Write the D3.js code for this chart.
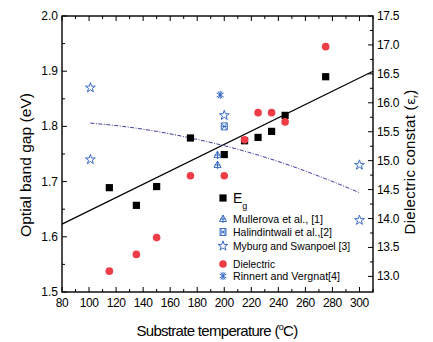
<!DOCTYPE html>
<meta charset="utf-8">
<script src="https://d3js.org/d3.v7.min.js"></script>
<style>
body { margin: 0; background: #fff; }
text { font-family: "Liberation Sans", Arial, sans-serif; }
</style>
<div id="chart"></div>
<script>

// measured values
var temps = [115, 135, 150, 175, 200, 215, 225, 235, 245, 275];
var egValues = [1.689, 1.657, 1.691, 1.779, 1.749, 1.774, 1.780, 1.791, 1.820, 1.890];
var dielectricValues = [13.09, 13.38, 13.67, 14.74, 14.74, 15.36, 15.83, 15.83, 15.67, 16.97];

// linear fit of Eg
var fitTemps = [80, 310];
var fitValues = [1.623, 1.900];

// dash-dot curve
var curveTemps = [101, 125, 150, 175, 200, 225, 250, 275, 300];
var curveValues = [1.806, 1.800, 1.791, 1.779, 1.765, 1.748, 1.728, 1.705, 1.680];

// literature
var mullerovaTemps = [195, 195];
var mullerovaValues = [1.748, 1.730];
var halindTemps = [200];
var halindValues = [1.800];
var myburgTemps = [101, 101, 200, 300, 300];
var myburgValues = [1.870, 1.740, 1.820, 1.730, 1.630];
var rinnertTemps = [197];
var rinnertValues = [1.857];

var xTicks = [80, 100, 120, 140, 160, 180, 200, 220, 240, 260, 280, 300];
var yTicks = [1.5, 1.6, 1.7, 1.8, 1.9, 2.0];
var y2Ticks = [13.0, 13.5, 14.0, 14.5, 15.0, 15.5, 16.0, 16.5, 17.0, 17.5];

var legendLabels = ["Mullerova et al., [1]", "Halindintwali et al.,[2]", "Myburg and Swanpoel [3]", "Dielectric", "Rinnert and Vergnat[4]"];
var legendWidths = [90, 99, 117, 42, 107];

var blue = "#3b6cc6", red = "#ee3d47";

var margin = {top: 16, right: 60, bottom: 50, left: 62},
    width = 373 - margin.left,
    height = 292 - margin.top;

var svg = d3.select("#chart")
  .append("svg")
    .attr("width", 433)
    .attr("height", 342)
  .append("g")
    .attr("transform", "translate(" + margin.left + "," + margin.top + ")");

var x = d3.scaleLinear().domain([80, 310]).range([0, width]);
var y = d3.scaleLinear().domain([1.5, 2.0]).range([height, 0]);
var y2 = d3.scaleLinear().domain([12.73, 17.5]).range([height, 0]);

// ticks (inward), minor + major
var g = svg.append("g").attr("stroke", "#000").attr("stroke-width", 1);
d3.range(80, 311, 10).forEach(function(v) {
  var len = (v % 20 === 0) ? 5 : 3;
  g.append("line").attr("x1", x(v)).attr("x2", x(v)).attr("y1", height).attr("y2", height - len);
  g.append("line").attr("x1", x(v)).attr("x2", x(v)).attr("y1", 0).attr("y2", len);
});
d3.range(0, 11).forEach(function(i) {
  var v = 1.5 + i * 0.05;
  var len = (i % 2 === 0) ? 5 : 3;
  g.append("line").attr("x1", 0).attr("x2", len).attr("y1", y(v)).attr("y2", y(v));
});
d3.range(0, 19).forEach(function(i) {
  var v = 13.0 + i * 0.25;
  var len = (i % 2 === 0) ? 5 : 3;
  g.append("line").attr("x1", width).attr("x2", width - len).attr("y1", y2(v)).attr("y2", y2(v));
});

// frame
svg.append("rect")
  .attr("width", width).attr("height", height)
  .attr("fill", "none").attr("stroke", "#000").attr("stroke-width", 1.4);

// tick labels
svg.selectAll(".xl").data(xTicks).enter().append("text")
  .attr("x", function(d) { return x(d); })
  .attr("y", height + 15)
  .attr("text-anchor", "middle")
  .attr("font-size", 12)
  .attr("letter-spacing", -0.4)
  .text(function(d) { return d; });
svg.selectAll(".yl").data(yTicks).enter().append("text")
  .attr("x", -4)
  .attr("y", function(d) { return y(d) + 4; })
  .attr("text-anchor", "end")
  .attr("font-size", 12)
  .text(function(d) { return d.toFixed(1); });
svg.selectAll(".y2l").data(y2Ticks).enter().append("text")
  .attr("x", width + 4)
  .attr("y", function(d) { return y2(d) + 4; })
  .attr("font-size", 12)
  .attr("letter-spacing", -0.3)
  .text(function(d) { return d.toFixed(1); });

// axis titles
svg.append("text")
  .attr("transform", "translate(" + (31 - margin.left) + "," + (165 - margin.top) + ") rotate(-90)")
  .attr("text-anchor", "middle").attr("font-size", 15)
  .attr("textLength", 144).attr("lengthAdjust", "spacingAndGlyphs")
  .text("Optial band gap (eV)");
var rt = svg.append("text")
  .attr("transform", "translate(" + (415 - margin.left) + "," + (162 - margin.top) + ") rotate(-90)")
  .attr("text-anchor", "middle").attr("font-size", 15).attr("letter-spacing", 0.3);
rt.append("tspan").text("Dielectric constat (");
rt.append("tspan").attr("font-family", "DejaVu Sans").attr("font-size", 13).text("ε");
rt.append("tspan").attr("font-size", 8).attr("dy", 3).text("r");
rt.append("tspan").attr("dy", -3).text(")");
var bt = svg.append("text")
  .attr("x", 217 - margin.left).attr("y", 336 - margin.top)
  .attr("text-anchor", "middle").attr("font-size", 15).attr("letter-spacing", -0.7);
bt.append("tspan").text("Substrate temperature (");
bt.append("tspan").attr("font-size", 9).attr("dy", -6).text("o");
bt.append("tspan").attr("dy", 6).text("C)");

// lines
svg.append("path")
  .datum(d3.zip(fitTemps, fitValues))
  .attr("fill", "none").attr("stroke", "#000").attr("stroke-width", 1.2)
  .attr("d", d3.line().x(function(d) { return x(d[0]); }).y(function(d) { return y(d[1]); }));
svg.append("path")
  .datum(d3.zip(curveTemps, curveValues))
  .attr("fill", "none").attr("stroke", "#3a3d9c").attr("stroke-width", 1)
  .attr("stroke-dasharray", "4,1.5,1,1.5")
  .attr("d", d3.line().curve(d3.curveMonotoneX).x(function(d) { return x(d[0]); }).y(function(d) { return y(d[1]); }));

// symbol drawers
function square(sel, cx, cy) {
  sel.append("rect").attr("x", cx - 3.6).attr("y", cy - 3.6).attr("width", 7.2).attr("height", 7.2).attr("fill", "#000");
}
function circle(sel, cx, cy) {
  sel.append("circle").attr("cx", cx).attr("cy", cy).attr("r", 3.8).attr("fill", red);
}
function star(sel, cx, cy) {
  sel.append("path").attr("d", d3.symbol().type(d3.symbolStar).size(30)())
    .attr("transform", "translate(" + cx + "," + cy + ")")
    .attr("fill", "none").attr("stroke", blue).attr("stroke-width", 1);
}
function tri(sel, cx, cy) {
  sel.append("path")
    .attr("d", "M0,-4L3.5,2.5L-3.5,2.5Z M0,-4V4 M-3,0H3")
    .attr("transform", "translate(" + cx + "," + cy + ")")
    .attr("fill", "none").attr("stroke", blue).attr("stroke-width", 1);
}
function boxX(sel, cx, cy) {
  sel.append("path")
    .attr("d", "M-3,-3.5H3V3.5H-3Z M-3,-3.5L3,3.5 M3,-3.5L-3,3.5 M-3,0H3")
    .attr("transform", "translate(" + cx + "," + cy + ")")
    .attr("fill", "none").attr("stroke", blue).attr("stroke-width", 1);
}
function aster(sel, cx, cy) {
  sel.append("path")
    .attr("d", "M0,-4V4 M-3.5,-2L3.5,2 M-3.5,2L3.5,-2 M-2,-3.5L2,3.5 M2,-3.5L-2,3.5")
    .attr("transform", "translate(" + cx + "," + cy + ")")
    .attr("fill", "none").attr("stroke", blue).attr("stroke-width", 1);
}

var marks = svg.append("g");
temps.forEach(function(t, i) { square(marks, x(t), y(egValues[i])); });
temps.forEach(function(t, i) { circle(marks, x(t), y2(dielectricValues[i])); });
mullerovaTemps.forEach(function(t, i) { tri(marks, x(t), y(mullerovaValues[i])); });
halindTemps.forEach(function(t, i) { boxX(marks, x(t), y(halindValues[i])); });
myburgTemps.forEach(function(t, i) { star(marks, x(t), y(myburgValues[i])); });
rinnertTemps.forEach(function(t, i) { aster(marks, x(t), y(rinnertValues[i])); });

// legend
var lg = svg.append("g").attr("transform", "translate(" + (-margin.left) + "," + (-margin.top) + ")");
square(lg, 223, 198);
var eg = lg.append("text").attr("x", 233).attr("y", 203).attr("font-size", 14);
eg.append("tspan").text("E");
eg.append("tspan").attr("font-size", 9).attr("dy", 6).text("g");
var drawers = [tri, boxX, star, circle, aster];
var legendY = [219, 232, 246, 264, 276];
legendLabels.forEach(function(lbl, i) {
  drawers[i](lg, 223, legendY[i]);
  lg.append("text")
    .attr("x", 233).attr("y", legendY[i] + 4)
    .attr("font-size", 11)
    .attr("textLength", legendWidths[i])
    .attr("lengthAdjust", "spacingAndGlyphs")
    .text(lbl);
});
</script>
